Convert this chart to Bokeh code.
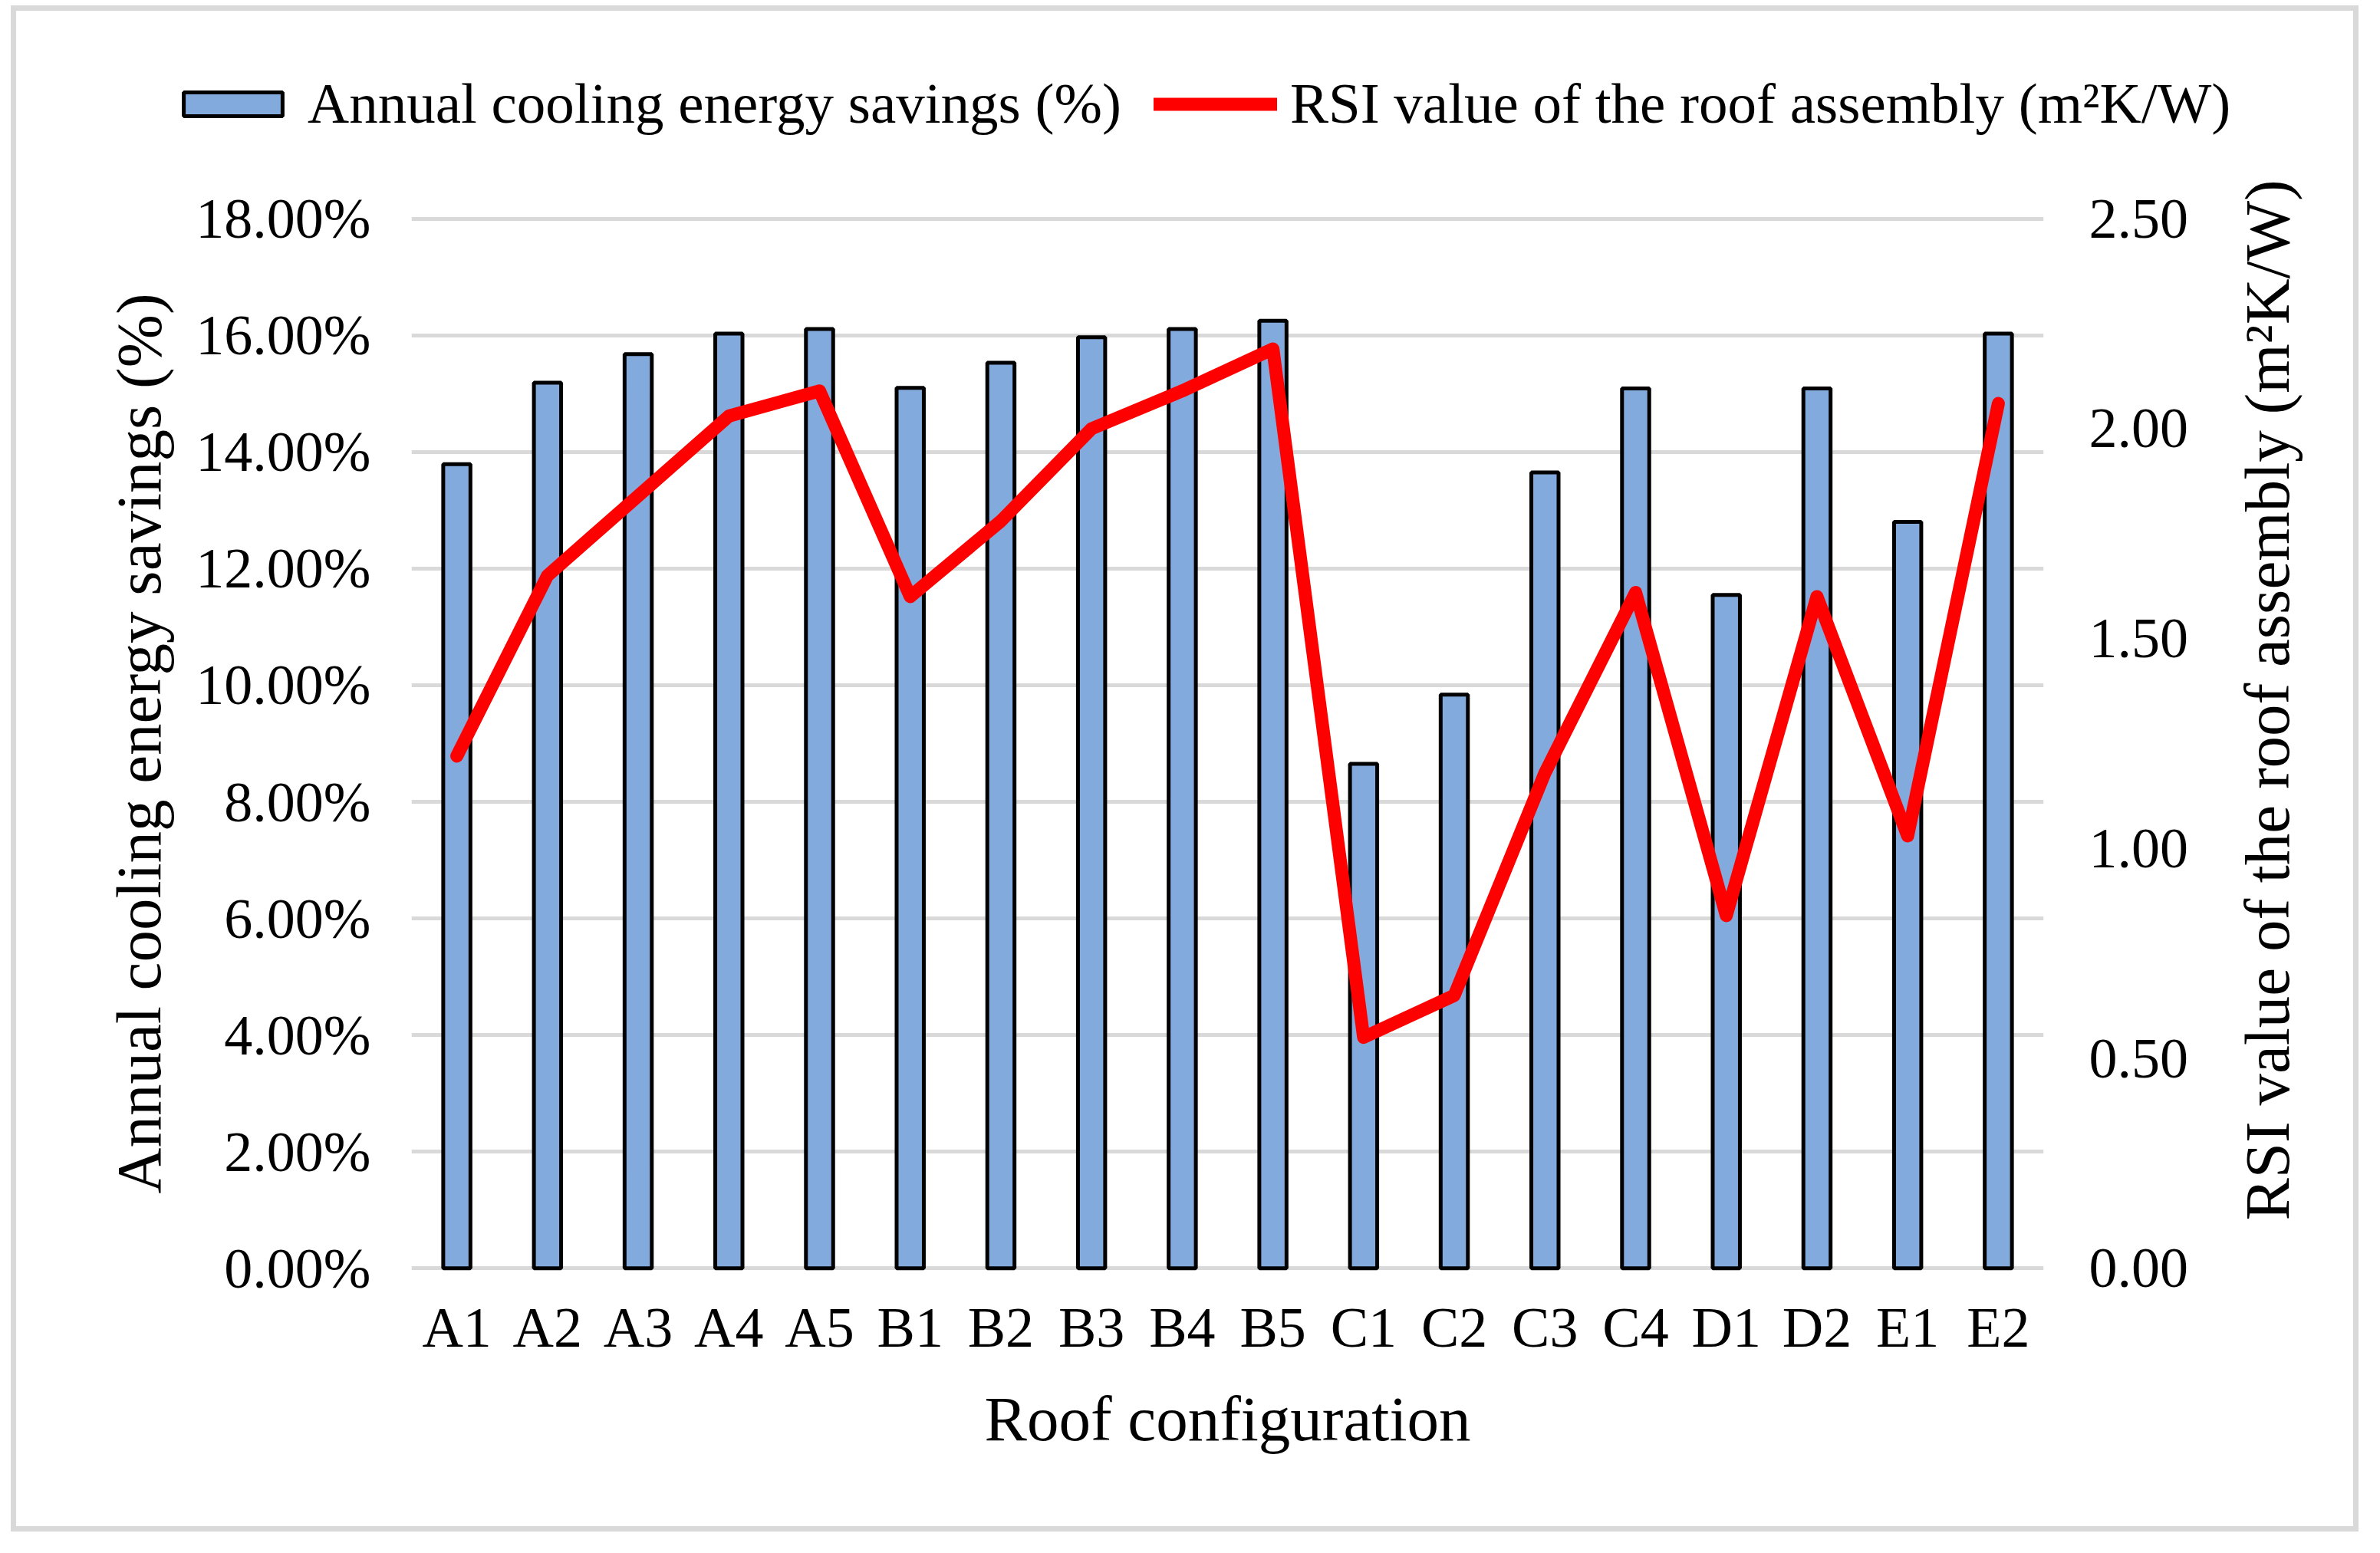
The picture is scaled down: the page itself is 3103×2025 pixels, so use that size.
import math
from bokeh.plotting import figure
from bokeh.models import (Range1d, LinearAxis, FixedTicker, PrintfTickFormatter,
                          Legend, LegendItem)
from bokeh.embed import file_html
from bokeh.resources import INLINE

# ---- data ----
configs = ["A1", "A2", "A3", "A4", "A5", "B1", "B2", "B3", "B4", "B5",
           "C1", "C2", "C3", "C4", "D1", "D2", "E1", "E2"]
cooling_savings = [13.79, 15.19, 15.68, 16.03, 16.11, 15.10, 15.53, 15.97, 16.11, 16.25,
                   8.65, 9.84, 13.65, 15.09, 11.55, 15.09, 12.80, 16.03]
rsi_values = [1.22, 1.65, 1.84, 2.03, 2.09, 1.60, 1.78, 2.00, 2.09, 2.19,
              0.55, 0.65, 1.18, 1.61, 0.84, 1.60, 1.03, 2.06]
left_ticks = [0, 2, 4, 6, 8, 10, 12, 14, 16, 18]
right_ticks = [0.0, 0.5, 1.0, 1.5, 2.0, 2.5]

bar_label = "Annual cooling energy savings (%)"
line_label = "RSI value of the roof assembly (m\u00b2K/W)"
x_title = "Roof configuration"

FONT = "Liberation Serif"
TICK_SIZE = "74px"
TITLE_SIZE = "83px"
LEGEND_SIZE = "75px"

BAR_FILL = "#82AADC"
LINE_RED = "#FF0000"

PAD = 0.05  # tiny range padding so the 0 % and 18 % gridlines are not clipped
p = figure(x_range=configs, y_range=Range1d(-PAD, 18 + PAD), width=3061, height=1990,
           output_backend="svg", toolbar_location=None,
           min_border_left=515, min_border_right=418,
           min_border_top=267, min_border_bottom=347)
p.extra_y_ranges = {"rsi": Range1d(-PAD * 2.5 / 18, (18 + PAD) * 2.5 / 18)}
p.outline_line_color = None
p.styles = {"border": "7px solid #D9D9D9", "margin-left": "14px", "margin-top": "7px"}

bars = p.vbar(x=configs, top=cooling_savings, width=0.3,
              fill_color=BAR_FILL, line_color="black", line_width=5)
line = p.line(x=configs, y=rsi_values, y_range_name="rsi",
              line_color=LINE_RED, line_width=17,
              line_join="round", line_cap="round")

ly = p.yaxis[0]
ly.ticker = FixedTicker(ticks=left_ticks)
ly.formatter = PrintfTickFormatter(format="%.2f%%")
ly.axis_label = bar_label

p.xgrid.grid_line_color = None
p.ygrid.ticker = ly.ticker
p.ygrid.grid_line_color = "#D9D9D9"
p.ygrid.grid_line_width = 5

ry = LinearAxis(y_range_name="rsi", ticker=FixedTicker(ticks=right_ticks),
                formatter=PrintfTickFormatter(format="%.2f"))
p.add_layout(ry, "right")

# right-hand title, written bottom-to-top, carried by a tick-less companion axis
title_tick = 0.1136
rt = LinearAxis(y_range_name="rsi", ticker=FixedTicker(ticks=[title_tick]),
                major_label_overrides={title_tick: line_label},
                major_label_orientation=math.pi / 2)
p.add_layout(rt, "right")

bx = p.xaxis[0]
bx.axis_label = x_title


def style_axis(ax):
    ax.axis_line_color = None
    ax.major_tick_line_color = None
    ax.minor_tick_line_color = None
    ax.major_tick_out = 0
    ax.major_tick_in = 0
    ax.minor_tick_out = 0
    ax.major_label_text_font = FONT
    ax.major_label_text_font_size = TICK_SIZE
    ax.major_label_text_color = "black"
    ax.axis_label_text_font = FONT
    ax.axis_label_text_font_size = TITLE_SIZE
    ax.axis_label_text_font_style = "normal"
    ax.axis_label_text_color = "black"


for ax in [ly, ry, rt, bx]:
    style_axis(ax)

rt.major_label_text_font_size = TITLE_SIZE
rt.major_label_standoff = 100

ly.major_label_standoff = 53
ly.axis_label_standoff = 25
ry.major_label_standoff = 59
bx.major_label_standoff = 32
bx.axis_label_standoff = 29

# ---- legend: a transparent overlay figure laid over the top of the chart ----
# (its proxy renderers carry the real series but are hidden; only the legend shows)
pl = figure(width=2720, height=110, x_range=Range1d(0, 1), y_range=Range1d(0, 1),
            output_backend="svg", toolbar_location=None,
            x_axis_location=None, y_axis_location=None,
            min_border_left=0, min_border_right=0, min_border_top=0, min_border_bottom=0)
pl.background_fill_color = None
pl.border_fill_color = None
pl.outline_line_color = None
pl.grid.visible = False
idx = list(range(len(configs)))
lg_bar = pl.vbar(x=idx, top=cooling_savings, width=0.3, fill_color=BAR_FILL,
                 line_color="black", line_width=5)
lg_line = pl.line(x=idx, y=rsi_values, line_color=LINE_RED, line_width=17,
                  line_cap="round")
lg_bar.visible = False
lg_line.visible = False
legend = Legend(items=[LegendItem(label=bar_label, renderers=[lg_bar]),
                       LegendItem(label=line_label, renderers=[lg_line])],
                location="top_left", orientation="horizontal",
                padding=0, margin=10, spacing=42, label_standoff=17,
                glyph_width=161, glyph_height=39,
                border_line_color=None, background_fill_alpha=0,
                inactive_fill_alpha=0,
                label_text_font=FONT, label_text_font_size=LEGEND_SIZE,
                label_text_color="black")
pl.add_layout(legend, "center")
pl.styles = {"position": "absolute", "left": "213px", "top": "82px"}

open("out.html", "w").write(file_html([p, pl], INLINE))
